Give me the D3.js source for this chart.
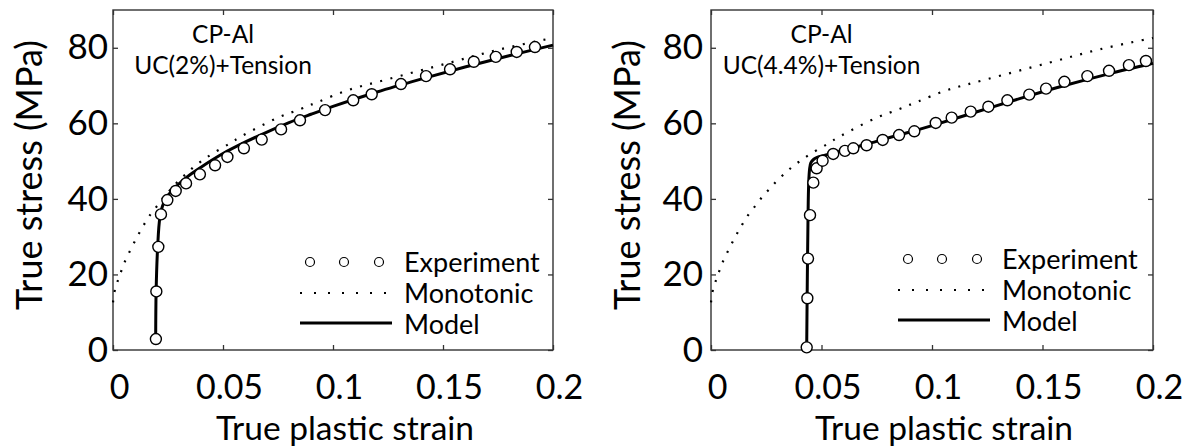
<!DOCTYPE html>
<html>
<head>
<meta charset="utf-8">
<script src="https://cdn.jsdelivr.net/npm/d3@7"></script>
<style>
  html, body { margin: 0; padding: 0; background: #fff; }
  svg { display: block; font-family: Lato, "Open Sans", sans-serif; }
</style>
</head>
<body>
<svg id="chart" width="1189" height="447"></svg>
<script>
// ---- data: true plastic strain vs true stress (MPa) ----
const xTicks = [0, 0.05, 0.1, 0.15, 0.2];
const xTickLabels = ["0", "0.05", "0.1", "0.15", "0.2"];
const yTicks = [0, 20, 40, 60, 80];
const yTickLabels = ["0", "20", "40", "60", "80"];

// monotonic tension reference curve (same in both panels)
const monoStrain = [0, 0.001, 0.003, 0.005, 0.0077, 0.0112, 0.0141, 0.0174, 0.0207, 0.0238, 0.0271, 0.0301, 0.034, 0.037, 0.041, 0.045, 0.052, 0.0585, 0.075, 0.0858, 0.0933, 0.1069, 0.1244, 0.1527, 0.176, 0.2];
const monoStress = [12.6, 16.3, 19.6, 22.9, 26.2, 30.2, 33.2, 36.2, 38.6, 41.0, 43.0, 45.0, 47.0, 48.6, 50.3, 51.9, 54.3, 56.6, 61.5, 63.9, 65.7, 68.8, 71.6, 76.0, 79.6, 82.6];

// UC(2%) + tension
const exp2Strain = [0.0195, 0.0197, 0.0206, 0.0218, 0.0247, 0.0285, 0.0332, 0.0395, 0.0464, 0.052, 0.0595, 0.0676, 0.0764, 0.085, 0.0964, 0.1092, 0.1176, 0.1309, 0.1423, 0.1532, 0.164, 0.174, 0.1835, 0.1918];
const exp2Stress = [2.9, 15.5, 27.3, 35.9, 39.7, 42.1, 44.1, 46.5, 48.9, 51.1, 53.4, 55.7, 58.4, 60.8, 63.5, 66.1, 67.7, 70.4, 72.5, 74.3, 76.3, 77.6, 78.9, 80.2];
const model2Strain = [0.0194, 0.0196, 0.0203, 0.0213, 0.0228, 0.025, 0.03, 0.035, 0.04, 0.05, 0.06, 0.07, 0.08, 0.09, 0.1, 0.12, 0.14, 0.16, 0.18, 0.2];
const model2Stress = [2.9, 15.5, 27.3, 35.0, 38.6, 40.9, 44.0, 46.4, 48.4, 52.0, 55.0, 57.7, 60.2, 62.4, 64.5, 68.3, 71.7, 74.9, 77.9, 80.7];

// UC(4.4%) + tension
const exp44Strain = [0.0433, 0.0436, 0.0439, 0.0448, 0.0463, 0.0478, 0.0505, 0.0553, 0.0606, 0.0644, 0.0704, 0.0777, 0.0851, 0.092, 0.1017, 0.1089, 0.1175, 0.1255, 0.1341, 0.144, 0.1516, 0.1599, 0.1703, 0.1801, 0.1891, 0.1968];
const exp44Stress = [0.7, 13.7, 24.2, 35.7, 44.3, 48.1, 50.1, 51.9, 52.7, 53.4, 54.2, 55.6, 56.9, 57.9, 60.1, 61.5, 63.1, 64.4, 66.1, 67.6, 69.2, 71.0, 72.5, 73.9, 75.4, 76.5];
const model44Strain = [0.0433, 0.0436, 0.0439, 0.0442, 0.0446, 0.0452, 0.0465, 0.048, 0.052, 0.06, 0.07, 0.08, 0.09, 0.1, 0.12, 0.14, 0.16, 0.18, 0.2];
const model44Stress = [0.7, 20, 35, 44, 47.8, 49.6, 50.5, 51.0, 51.6, 52.9, 54.4, 56.1, 57.7, 59.4, 63.0, 66.6, 70.0, 73.1, 75.9];

const legendLabels = ["Experiment", "Monotonic", "Model"];
const zip = (xs, ys) => xs.map((x, i) => [x, ys[i]]);

const svg = d3.select("#chart");

function drawPanel(opt) {
  const x = d3.scaleLinear().domain([0, 0.2]).range([opt.left, opt.right]);
  const y = d3.scaleLinear().domain([0, 90]).range([350, 10]);
  const g = svg.append("g");
  const [y0, y1] = y.range();

  // axes with inward ticks on all four sides
  const ax = (gen, tx, ty) => g.append("g").attr("transform", `translate(${tx},${ty})`).call(gen);
  const bottom = ax(d3.axisBottom(x).tickValues(xTicks).tickFormat((d, i) => xTickLabels[i]).tickSizeInner(-5).tickSizeOuter(0).tickPadding(25), 0, y0);
  const top = ax(d3.axisTop(x).tickValues(xTicks).tickFormat("").tickSizeInner(-5).tickSizeOuter(0), 0, y1);
  const left = ax(d3.axisLeft(y).tickValues(yTicks).tickFormat((d, i) => yTickLabels[i]).tickSizeInner(-5).tickSizeOuter(0).tickPadding(opt.yPad), opt.left, 0);
  const right = ax(d3.axisRight(y).tickValues(yTicks).tickFormat("").tickSizeInner(-5).tickSizeOuter(0), opt.right, 0);
  [bottom, top, left, right].forEach(a => {
    a.select(".domain").remove();
    a.selectAll(".tick line").attr("stroke", "#333").attr("stroke-width", 1.3);
    a.selectAll("text").attr("fill", "#000").style("font-family", "Lato, sans-serif").style("font-size", "35px");
  });
  bottom.selectAll(".tick text").attr("dx", 6).attr("dy", "0.71em").style("font-size", "34px");

  g.append("rect")
    .attr("x", opt.left).attr("y", y1)
    .attr("width", opt.right - opt.left).attr("height", y0 - y1)
    .attr("fill", "none").attr("stroke", "#333").attr("stroke-width", 1.4);

  // axis titles
  g.append("text")
    .attr("x", (opt.left + opt.right) / 2 + 12).attr("y", 440)
    .attr("text-anchor", "middle").style("font-size", "33.5px")
    .text("True plastic strain");
  g.append("text")
    .attr("transform", `translate(${opt.left - 71},175) rotate(-90)`)
    .attr("text-anchor", "middle").style("font-size", "36px")
    .text("True stress (MPa)");

  // annotation
  g.append("text").attr("x", x(0.05)).attr("y", 43)
    .attr("text-anchor", "middle").style("font-size", "24.5px").text("CP-Al");
  g.append("text").attr("x", x(0.05)).attr("y", 74)
    .attr("text-anchor", "middle").style("font-size", "24.5px").text(opt.title);

  const line = d3.line().x(d => x(d[0])).y(d => y(d[1])).curve(d3.curveCatmullRom.alpha(0.5));

  // monotonic reference (dotted)
  g.append("path").datum(zip(monoStrain, monoStress))
    .attr("d", line).attr("fill", "none").attr("stroke", "#000")
    .attr("stroke-width", 2.2).attr("stroke-dasharray", "2 8.5");

  // model (solid)
  g.append("path").datum(zip(opt.modelStrain, opt.modelStress))
    .attr("d", line).attr("fill", "none").attr("stroke", "#000")
    .attr("stroke-width", 3);

  // experiment (open circles)
  g.append("g").selectAll("circle")
    .data(zip(opt.expStrain, opt.expStress))
    .join("circle")
    .attr("cx", d => x(d[0])).attr("cy", d => y(d[1])).attr("r", 5.5)
    .attr("fill", "#fff").attr("stroke", "#000").attr("stroke-width", 1.4);

  // legend
  const lg = g.append("g").attr("transform", `translate(${opt.left},${opt.legendY})`);
  [197, 231, 266].forEach(cx => lg.append("circle").attr("cx", cx).attr("cy", 0).attr("r", 4.5)
    .attr("fill", "#fff").attr("stroke", "#000").attr("stroke-width", 1.2));
  lg.append("line").attr("x1", 187).attr("x2", 274).attr("y1", 31).attr("y2", 31)
    .attr("stroke", "#000").attr("stroke-width", 2).attr("stroke-dasharray", "2 12");
  lg.append("line").attr("x1", 187).attr("x2", 279).attr("y1", 61).attr("y2", 61)
    .attr("stroke", "#000").attr("stroke-width", 3);
  legendLabels.forEach((t, i) => lg.append("text")
    .attr("x", 291).attr("y", i * 31 + 9.5).style("font-size", "27px").text(t));
}

drawPanel({ left: 113, right: 553, yPad: 5, title: "UC(2%)+Tension",
  expStrain: exp2Strain, expStress: exp2Stress, modelStrain: model2Strain, modelStress: model2Stress, legendY: 262 });
drawPanel({ left: 711, right: 1153, yPad: 8, title: "UC(4.4%)+Tension",
  expStrain: exp44Strain, expStress: exp44Stress, modelStrain: model44Strain, modelStress: model44Stress, legendY: 259 });
</script>
</body>
</html>
